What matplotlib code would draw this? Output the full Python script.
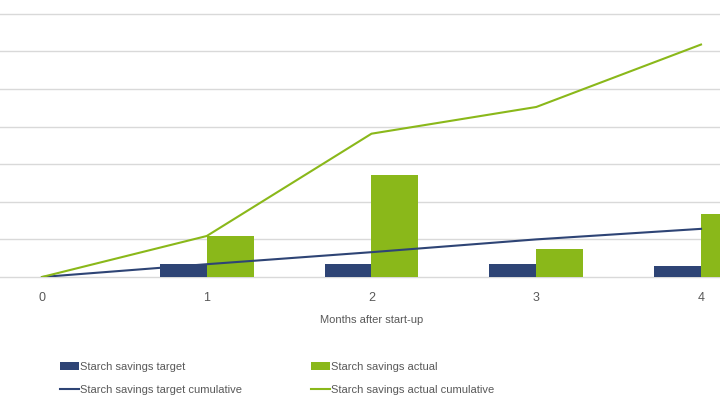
import matplotlib.pyplot as plt
import numpy as np

months = [0, 1, 2, 3, 4]
bar_months = [1, 2, 3, 4]
target = [0.34, 0.34, 0.34, 0.30]
actual = [1.09, 2.71, 0.74, 1.67]
target_cum = [0, 0.34, 0.66, 1.0, 1.28]
actual_cum = [0, 1.09, 3.81, 4.52, 6.18]

NAVY = "#2E4475"
GREEN = "#8AB81A"
GRID = "#D9D9D9"
TEXT = "#595959"

plt.rcParams["font.family"] = ["Liberation Sans", "DejaVu Sans"]

fig = plt.figure(figsize=(7.2, 4.05), dpi=100)
ax = fig.add_axes([0, 128 / 405, 1, (277 - 13.7) / 405])

bw = 0.285
x = np.array(bar_months)
ax.bar(x - bw / 2, target, width=bw, color=NAVY, label="Starch savings target", zorder=2)
ax.bar(x + bw / 2, actual, width=bw, color=GREEN, label="Starch savings actual", zorder=2)
ax.plot(months, target_cum, color=NAVY, lw=1.5, label="Starch savings target cumulative", zorder=3)
ax.plot(months, actual_cum, color=GREEN, lw=1.5, label="Starch savings actual cumulative", zorder=3)

ax.set_xlim(-42 / 164.8, 4 + 19 / 164.8)
ax.set_ylim(0, 7)
ax.set_yticks(range(0, 8))
ax.set_yticklabels([])
ax.tick_params(axis="y", length=0)
ax.set_xticks(months)
ax.tick_params(axis="x", length=0, labelsize=9, labelcolor=TEXT, pad=11)
ax.grid(axis="y", color=GRID, lw=1, zorder=0)
for line in ax.get_ygridlines():
    line.set_clip_on(False)
for s in ax.spines.values():
    s.set_visible(False)
ax.set_xlabel("Months after start-up", fontsize=8, color=TEXT)
ax.xaxis.set_label_coords(372 / 720, -(315 - 277) / (277 - 13.7))

handles, labels = ax.get_legend_handles_labels()
idx = [2, 0, 3, 1]
fig.legend([handles[i] for i in idx], [labels[i] for i in idx],
           ncol=2, loc="upper left", bbox_to_anchor=(60 / 720, 1 - 362 / 405),
           frameon=False, fontsize=8, labelcolor=TEXT, handlelength=1.7,
           handletextpad=0.1, columnspacing=6.2, labelspacing=1.15,
           borderaxespad=0, borderpad=0)

fig.savefig("out.png", dpi=100)
